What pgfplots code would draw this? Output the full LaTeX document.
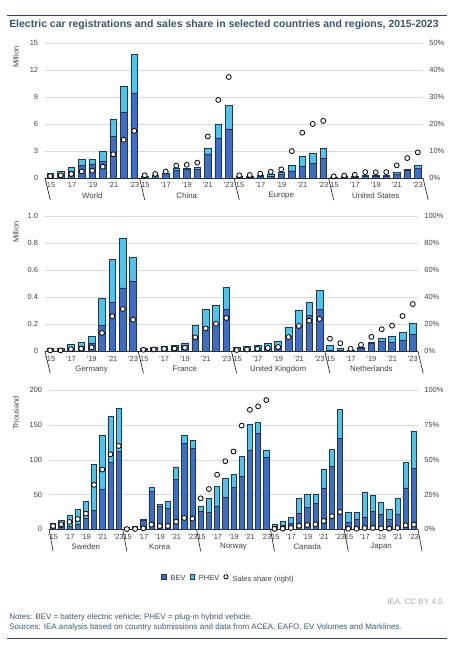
\documentclass[border=0pt]{standalone}
\usepackage{fontspec}
\setmainfont{Liberation Sans}
\usepackage{pgfplots}
\pgfplotsset{compat=1.18}
\usepackage{pgfplotstable}

\definecolor{bev}{HTML}{3E6DC4}
\definecolor{phev}{HTML}{4FC3EA}
\definecolor{edge}{HTML}{26334D}
\definecolor{titlec}{HTML}{3A5371}
\definecolor{gridc}{HTML}{DADADA}
\definecolor{txt}{HTML}{404040}
\definecolor{notec}{HTML}{3E5470}
\definecolor{creditc}{HTML}{A8A8A8}

\newcommand\tickfont{\fontsize{5.6}{6.5}\selectfont}
\newcommand\grpfont{\fontsize{5.9}{7}\selectfont}
\newcommand\notefont{\fontsize{6.0}{7}\selectfont}

% World 0-8, China 9-17, Europe 18-26, United States 27-35 (million, share %)
\pgfplotstableread{
x bev phev share
0 0.33 0.22 0.7
1 0.47 0.30 1.0
2 0.74 0.48 1.5
3 1.37 0.67 2.4
4 1.56 0.55 2.7
5 1.85 1.15 4.2
6 4.67 1.88 8.8
7 7.33 2.87 14.2
8 9.48 4.26 17.5
9 0.15 0.06 1.0
10 0.26 0.08 1.5
11 0.48 0.10 2.4
12 0.86 0.24 4.6
13 0.93 0.14 4.9
14 1.00 0.18 5.7
15 2.67 0.66 15.4
16 4.48 1.48 29.0
17 5.48 2.62 37.5
18 0.09 0.10 1.0
19 0.10 0.12 1.1
20 0.15 0.16 1.6
21 0.20 0.20 2.3
22 0.38 0.22 3.2
23 0.79 0.65 10.0
24 1.30 1.07 16.8
25 1.67 1.03 20.1
26 2.22 1.04 21.2
27 0.07 0.04 0.6
28 0.09 0.07 0.9
29 0.10 0.10 1.2
30 0.24 0.12 2.2
31 0.24 0.09 2.1
32 0.23 0.07 2.2
33 0.47 0.16 4.7
34 0.85 0.15 7.4
35 1.05 0.35 9.5
}\tabA

% Germany, France, United Kingdom, Netherlands (million, share %)
\pgfplotstableread{
x bev phev share
0 0.012 0.012 0.7
1 0.011 0.014 0.7
2 0.025 0.030 1.6
3 0.036 0.032 2.0
4 0.063 0.045 3.0
5 0.195 0.195 13.6
6 0.360 0.320 26.0
7 0.470 0.365 31.4
8 0.520 0.180 23.5
9 0.017 0.005 1.2
10 0.022 0.007 1.4
11 0.026 0.011 1.8
12 0.032 0.014 2.1
13 0.044 0.018 2.7
14 0.110 0.080 10.4
15 0.180 0.130 17.0
16 0.210 0.130 20.5
17 0.310 0.164 24.7
18 0.010 0.018 1.0
19 0.011 0.026 1.4
20 0.014 0.033 1.9
21 0.016 0.044 2.5
22 0.038 0.035 3.2
23 0.110 0.065 10.6
24 0.190 0.116 18.8
25 0.267 0.100 22.7
26 0.314 0.140 24.0
27 0.008 0.036 9.4
28 0.006 0.017 6.0
29 0.009 0.002 1.8
30 0.026 0.005 4.8
31 0.062 0.008 10.7
32 0.075 0.020 16.4
33 0.067 0.043 19.0
34 0.085 0.055 26.2
35 0.125 0.083 35.0
}\tabB

% Sweden, Korea, Norway, Canada, Japan (thousand, share %)
\pgfplotstableread{
x bev phev share
0 3.0 5.5 2.4
1 3.0 10.0 3.6
2 4.5 15.5 5.3
3 8.0 21.0 7.4
4 16.0 24.0 11.3
5 27.0 67.0 32.0
6 57.5 77.5 43.0
7 96.0 66.6 54.0
8 112.7 61.0 60.0
9 2.9 0.1 0.2
10 3.5 1.0 0.3
11 13.5 0.5 0.7
12 55.0 5.0 3.4
13 33.0 3.5 2.4
14 31.0 9.0 2.4
15 72.0 18.0 5.5
16 124.0 11.0 8.2
17 116.5 11.5 7.7
18 26.0 7.6 22.3
19 24.0 21.0 29.0
20 33.0 29.0 39.3
21 46.5 26.5 49.0
22 60.4 19.2 56.0
23 76.7 28.8 74.6
24 114.0 37.6 86.0
25 138.0 16.0 88.5
26 103.6 10.4 93.0
27 4.3 2.4 0.3
28 6.0 5.5 0.5
29 9.0 8.0 1.0
30 22.5 22.1 2.6
31 32.0 18.4 3.1
32 37.0 14.0 3.6
33 59.0 28.0 6.0
34 91.0 23.6 9.4
35 131.0 41.7 12.5
36 10.0 14.5 0.4
37 15.0 9.5 0.4
38 18.0 36.0 1.0
39 25.4 24.0 1.0
40 21.0 18.0 0.7
41 14.4 14.6 0.6
42 21.0 23.6 1.0
43 59.5 36.9 2.9
44 87.8 52.7 3.4
}\tabC

\pgfplotsset{
  base/.style={scale only axis, clip=false, ymin=0,
    tick label style={font=\tickfont, text=txt},
    major tick length=0pt, tick style={draw=none}},
  barax/.style={base, ybar stacked, bar width=0.65,
    axis x line*=bottom, axis y line*=left,
    y axis line style={draw=none},
    x axis line style={draw=black!85, line width=0.5pt, -},
    ymajorgrids, grid style={gridc, line width=0.4pt},
    xticklabel style={inner sep=0pt, yshift=-3.2pt},
    yticklabel style={inner sep=0pt, xshift=-5pt},
  },
  shareax/.style={base, axis x line=none, axis y line*=right,
    y axis line style={draw=none}, xtick=\empty,
    yticklabel style={inner sep=0pt, xshift=4.6pt, anchor=west}},
  bevp/.style={fill=bev, draw=edge, line width=0.4pt,
    legend image code/.code={\draw[fill=bev, draw=edge, line width=0.4pt] (0pt,0.2pt) rectangle (3.4pt,3.6pt);}},
  phevp/.style={fill=phev, draw=edge, line width=0.4pt,
    legend image code/.code={\draw[fill=phev, draw=edge, line width=0.4pt] (0pt,0.2pt) rectangle (3.4pt,3.6pt);}},
  sharep/.style={only marks, mark=*, mark size=1.85pt,
    mark options={fill=white, draw=black, line width=0.6pt}},
}

\begin{document}
\begin{tikzpicture}
\path[use as bounding box] (0,0) rectangle (349.5pt,-483.75pt);

% header
\draw[notec!80!black, line width=0.7pt] (5.25pt,-11.25pt) -- (335.25pt,-11.25pt);
\node[anchor=west, inner sep=0pt, font=\bfseries\fontsize{7.85}{9}\selectfont, text=titlec] at (6.75pt,-18.9pt)
  {Electric car registrations and sales share in selected countries and regions, 2015-2023};

% ---------- Panel 1 ----------
\begin{axis}[barax, at={(33.75pt,-133.5pt)}, anchor=south west, width=283.5pt, height=101pt,
  xmin=-0.5, xmax=35.5, ymax=15, ytick={0,3,6,9,12,15}, yticklabels={0,3,6,9,12,15},
  xtick={0,2,4,6,8,9,11,13,15,17,18,20,22,24,26,27,29,31,33,35},
  xticklabels={'15,'17,'19,'21,'23,'15,'17,'19,'21,'23,'15,'17,'19,'21,'23,'15,'17,'19,'21,'23}]
\addplot[bevp] table[x=x,y=bev] {\tabA};
\addplot[phevp] table[x=x,y=phev] {\tabA};
\pgfplotsinvokeforeach{-0.5,8.5,17.5,26.5,35.5}{\draw[black!85, line width=0.5pt] (axis cs:#1,0) -- ++(0,-16.5pt);}
\node[font=\grpfont, text=txt, yshift=-13.3pt] at (axis cs:4,0) {World};
\node[font=\grpfont, text=txt, yshift=-13.3pt] at (axis cs:13,0) {China};
\node[font=\grpfont, text=txt, yshift=-13.3pt] at (axis cs:22,0) {Europe};
\node[font=\grpfont, text=txt, yshift=-13.3pt] at (axis cs:31,0) {United States};
\end{axis}
\begin{axis}[shareax, at={(33.75pt,-133.5pt)}, anchor=south west, width=283.5pt, height=101pt,
  xmin=-0.5, xmax=35.5, ymax=50, ytick={0,10,20,30,40,50},
  yticklabels={0\%,10\%,20\%,30\%,40\%,50\%}]
\addplot[sharep] table[x=x,y=share] {\tabA};
\end{axis}
\node[rotate=90, font=\tickfont, text=txt] at (12pt,-42.75pt) {Million};

% ---------- Panel 2 ----------
\begin{axis}[barax, at={(33.75pt,-263.5pt)}, anchor=south west, width=279.75pt, height=101.25pt,
  xmin=-0.5, xmax=35.5, ymax=1, ytick={0,0.2,0.4,0.6,0.8,1}, yticklabels={0,0.2,0.4,0.6,0.8,1.0},
  xtick={0,2,4,6,8,9,11,13,15,17,18,20,22,24,26,27,29,31,33,35},
  xticklabels={'15,'17,'19,'21,'23,'15,'17,'19,'21,'23,'15,'17,'19,'21,'23,'15,'17,'19,'21,'23}]
\addplot[bevp] table[x=x,y=bev] {\tabB};
\addplot[phevp] table[x=x,y=phev] {\tabB};
\pgfplotsinvokeforeach{-0.5,8.5,17.5,26.5,35.5}{\draw[black!85, line width=0.5pt] (axis cs:#1,0) -- ++(0,-16.5pt);}
\node[font=\grpfont, text=txt, yshift=-13.3pt] at (axis cs:4,0) {Germany};
\node[font=\grpfont, text=txt, yshift=-13.3pt] at (axis cs:13,0) {France};
\node[font=\grpfont, text=txt, yshift=-13.3pt] at (axis cs:22,0) {United Kingdom};
\node[font=\grpfont, text=txt, yshift=-13.3pt] at (axis cs:31,0) {Netherlands};
\end{axis}
\begin{axis}[shareax, at={(33.75pt,-263.5pt)}, anchor=south west, width=279.75pt, height=101.25pt,
  xmin=-0.5, xmax=35.5, ymax=100, ytick={0,20,40,60,80,100},
  yticklabels={0\%,20\%,40\%,60\%,80\%,100\%}]
\addplot[sharep] table[x=x,y=share] {\tabB};
\end{axis}
\node[rotate=90, font=\tickfont, text=txt] at (12pt,-174pt) {Million};

% ---------- Panel 3 ----------
\begin{axis}[barax, at={(36.75pt,-397pt)}, anchor=south west, width=276.75pt, height=104.25pt,
  xmin=-0.5, xmax=44.5, ymax=200, ytick={0,50,100,150,200}, yticklabels={0,50,100,150,200},
  xtick={0,2,4,6,8,9,11,13,15,17,18,20,22,24,26,27,29,31,33,35,36,38,40,42,44},
  xticklabels={'15,'17,'19,'21,'23,'15,'17,'19,'21,'23,'15,'17,'19,'21,'23,'15,'17,'19,'21,'23,'15,'17,'19,'21,'23},
  legend style={at={(0.485,-0.3576)}, anchor=center, legend columns=3, draw=none, fill=none,
    font=\tickfont, text=txt, column sep=2.5pt, inner sep=0pt,
    nodes={inner sep=0.6pt}},
  legend cell align=left]
\addplot[bevp] table[x=x,y=bev] {\tabC};
\addlegendentry{BEV}
\addplot[phevp] table[x=x,y=phev] {\tabC};
\addlegendentry{PHEV}
\addlegendimage{legend image code/.code={\draw[fill=white, draw=black, line width=0.6pt] (1.7pt,1.9pt) circle (1.6pt);}}
\addlegendentry{Sales share (right)}
\pgfplotsinvokeforeach{-0.5,8.5,17.5,26.5,35.5,44.5}{\draw[black!85, line width=0.5pt] (axis cs:#1,0) -- ++(0,-16.5pt);}
\node[font=\grpfont, text=txt, yshift=-13.3pt] at (axis cs:4,0) {Sweden};
\node[font=\grpfont, text=txt, yshift=-13.3pt] at (axis cs:13,0) {Korea};
\node[font=\grpfont, text=txt, yshift=-13.3pt] at (axis cs:22,0) {Norway};
\node[font=\grpfont, text=txt, yshift=-13.3pt] at (axis cs:31,0) {Canada};
\node[font=\grpfont, text=txt, yshift=-13.3pt] at (axis cs:40,0) {Japan};
\end{axis}
\begin{axis}[shareax, at={(36.75pt,-397pt)}, anchor=south west, width=276.75pt, height=104.25pt,
  xmin=-0.5, xmax=44.5, ymax=100, ytick={0,25,50,75,100},
  yticklabels={0\%,25\%,50\%,75\%,100\%}]
\addplot[sharep] table[x=x,y=share] {\tabC};
\end{axis}
\node[rotate=90, font=\tickfont, text=txt] at (12pt,-309.75pt) {Thousand};

% footer
\node[anchor=east, inner sep=0pt, font=\notefont, text=creditc] at (333.75pt,-451.5pt) {IEA. CC BY 4.0.};
\node[anchor=west, inner sep=0pt, font=\notefont, text=notec] at (6.75pt,-462.75pt)
  {Notes: BEV = battery electric vehicle; PHEV = plug-in hybrid vehicle.};
\node[anchor=west, inner sep=0pt, font=\notefont, text=notec] at (6.75pt,-470.25pt)
  {Sources: IEA analysis based on country submissions and data from ACEA, EAFO, EV Volumes and Marklines.};
\draw[notec!80!black, line width=0.7pt] (5.25pt,-478.5pt) -- (335.25pt,-478.5pt);
\end{tikzpicture}
\end{document}
